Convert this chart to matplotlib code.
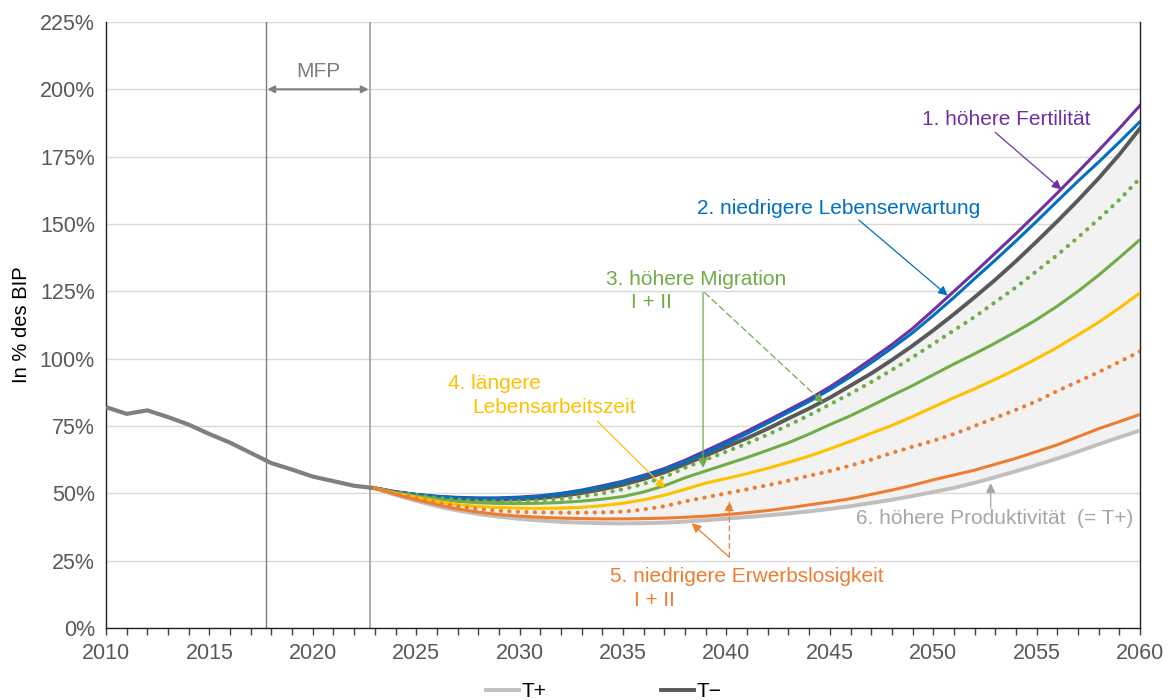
import numpy as np
import matplotlib
matplotlib.use('Agg')
import matplotlib.pyplot as plt
from matplotlib.ticker import MultipleLocator, FuncFormatter

plt.rcParams['font.family'] = ['Liberation Sans', 'DejaVu Sans']

hist_years = list(range(2010, 2024))
hist_vals = [82.0, 79.5, 80.8, 78.3, 75.5, 72.0, 68.8, 65.0, 61.2, 58.8, 56.2, 54.5, 52.8, 51.9]

years = list(range(2023, 2061))
t_plus = [51.9, 49.4, 47.2, 45.2, 43.6, 42.3, 41.3, 40.5, 39.9, 39.4, 39.1, 38.9, 38.8, 38.9, 39.1, 39.5,
          40.0, 40.6, 41.2, 41.8, 42.5, 43.3, 44.2, 45.2, 46.4, 47.6, 49.0, 50.5, 52.0, 53.9, 56.0, 58.2,
          60.5, 62.9, 65.5, 68.2, 70.8, 73.3]
t_minus = [51.9, 50.4, 49.4, 48.6, 48.0, 47.7, 47.6, 47.8, 48.2, 49.0, 50.1, 51.5, 53.2, 55.3, 57.8, 60.8,
           64.0, 67.3, 70.5, 74.0, 77.8, 81.5, 85.5, 90.0, 94.5, 99.5, 104.8, 110.5, 116.5, 122.8, 129.3,
           136.2, 143.5, 151.0, 158.8, 167.0, 175.8, 185.5]
fertility = [51.9, 50.6, 49.6, 48.9, 48.5, 48.3, 48.3, 48.6, 49.1, 50.0, 51.2, 52.8, 54.5, 56.7, 59.2, 62.3,
             65.8, 69.4, 73.1, 77.0, 81.0, 85.0, 89.5, 94.5, 99.8, 105.2, 111.2, 118.0, 125.0, 132.0, 139.2,
             146.4, 153.9, 161.5, 169.3, 177.3, 185.5, 194.0]
life_exp = [51.9, 50.5, 49.5, 48.8, 48.3, 48.1, 48.1, 48.4, 48.9, 49.8, 51.0, 52.5, 54.2, 56.3, 58.8, 61.7,
            65.0, 68.5, 72.2, 76.1, 80.1, 84.1, 88.5, 93.3, 98.5, 103.9, 109.6, 116.0, 122.7, 129.7, 136.6,
            143.7, 151.0, 158.5, 165.9, 173.0, 180.4, 188.0]
migration_1 = [51.9, 50.2, 49.0, 47.9, 47.0, 46.5, 46.2, 46.2, 46.3, 46.6, 47.1, 47.8, 48.8, 50.5, 52.8, 55.8,
               58.3, 60.8, 63.3, 66.0, 68.8, 72.0, 75.5, 78.8, 82.5, 86.3, 90.0, 94.0, 98.0, 101.8, 105.8,
               110.0, 114.5, 119.5, 125.0, 131.0, 137.5, 144.2]
migration_2 = [51.9, 50.4, 49.3, 48.3, 47.6, 47.2, 47.0, 47.0, 47.3, 47.9, 48.8, 50.0, 51.5, 53.5, 56.0, 59.5,
               62.5, 65.5, 68.5, 71.8, 75.3, 79.0, 83.0, 87.0, 91.3, 95.8, 100.5, 105.5, 110.5, 115.5, 121.0,
               126.5, 132.5, 138.5, 145.0, 151.8, 159.0, 167.0]
work_life = [51.9, 50.0, 48.5, 47.0, 45.8, 45.1, 44.7, 44.5, 44.4, 44.5, 44.8, 45.4, 46.3, 47.6, 49.3, 51.5,
             53.8, 55.5, 57.3, 59.3, 61.5, 63.8, 66.5, 69.3, 72.3, 75.2, 78.5, 82.0, 85.5, 88.8, 92.3,
             96.0, 100.0, 104.2, 108.8, 113.5, 118.8, 124.4]
unemp_1 = [51.9, 49.6, 47.6, 45.8, 44.2, 43.0, 42.1, 41.5, 41.1, 40.8, 40.6, 40.5, 40.5, 40.6, 40.8, 41.1,
           41.5, 42.1, 42.8, 43.6, 44.6, 45.7, 46.8, 48.0, 49.6, 51.2, 53.0, 55.0, 56.8, 58.6, 60.8,
           63.0, 65.5, 68.0, 71.0, 74.0, 76.6, 79.3]
unemp_2 = [51.9, 49.9, 48.2, 46.5, 45.2, 44.2, 43.5, 43.1, 42.9, 42.8, 42.8, 42.9, 43.2, 44.0, 45.2, 47.0,
           48.5, 50.0, 51.5, 53.0, 54.7, 56.5, 58.3, 60.3, 62.5, 65.0, 67.3, 69.5, 72.0, 75.0, 78.0,
           81.0, 84.2, 88.0, 91.5, 95.0, 98.8, 102.7]

purple = '#7030A0'
blue = '#0070C0'
green = '#70AD47'
yellow = '#FFC000'
orange = '#ED7D31'
lgrey = '#BFBFBF'
dgrey = '#595959'

fig = plt.figure(figsize=(11.7, 7), dpi=100)
ax = fig.add_axes([0.0906, 0.1029, 0.8838, 0.8657])

ax.fill_between(years, t_plus, t_minus, color='#F2F2F2', lw=0, zorder=1)
ax.axvline(2017.75, color='#7F7F7F', lw=1, zorder=2)
ax.axvline(2022.75, color='#A6A6A6', lw=1.3, zorder=2)

ax.plot(hist_years, hist_vals, color='#7F7F7F', lw=3.0, zorder=3, solid_capstyle='butt')
dots = (0, (0.05, 2.0))
l_plus, = ax.plot(years, t_plus, color=lgrey, lw=2.8, zorder=3, label='T+')
l_minus, = ax.plot(years, t_minus, color=dgrey, lw=2.8, zorder=4, label='T\u2212')
ax.plot(years, fertility, color=purple, lw=2.2, zorder=4)
ax.plot(years, life_exp, color=blue, lw=2.2, zorder=5)
ax.plot(years, migration_2, color=green, lw=3.0, ls=dots, dash_capstyle='round', zorder=5)
ax.plot(years, migration_1, color=green, lw=2.2, zorder=5)
ax.plot(years, work_life, color=yellow, lw=2.2, zorder=5)
ax.plot(years, unemp_2, color=orange, lw=3.0, ls=dots, dash_capstyle='round', zorder=5)
ax.plot(years, unemp_1, color=orange, lw=2.2, zorder=6)

ax.set_xlim(2010, 2060)
ax.set_ylim(0, 225)
ax.xaxis.set_major_locator(MultipleLocator(5))
ax.xaxis.set_minor_locator(MultipleLocator(1))
ax.yaxis.set_major_locator(MultipleLocator(25))
ax.yaxis.set_major_formatter(FuncFormatter(lambda v, p: f'{v:.0f}%'))
ax.grid(axis='y', color='#D9D9D9', lw=1, zorder=0)
ax.set_axisbelow(True)
ax.tick_params(axis='x', which='both', direction='out', length=5, width=1, color='#404040',
               labelsize=15.5, labelcolor='#595959', pad=6)
ax.tick_params(axis='y', length=0, labelsize=15.5, labelcolor='#595959', pad=8)
ax.spines['top'].set_visible(False)
for s in ['left', 'bottom', 'right']:
    ax.spines[s].set_color('#202020')
    ax.spines[s].set_linewidth(1)
ax.set_ylabel('In % des BIP', fontsize=14.5, color='black', labelpad=6)


def arrow(xy, xytext, color, ls='-'):
    ax.annotate('', xy=xy, xytext=xytext, zorder=7,
                arrowprops=dict(arrowstyle='-|>', color=color, lw=0.9, ls=ls,
                                mutation_scale=14, shrinkA=0, shrinkB=0))


fs = 15
ax.text(2020.25, 206.5, 'MFP', color='#7F7F7F', fontsize=fs, ha='center', va='center')
ax.annotate('', xy=(2017.8, 200), xytext=(2022.7, 200), zorder=7,
            arrowprops=dict(arrowstyle='<|-|>', color='#7F7F7F', lw=1.5,
                            mutation_scale=10, shrinkA=0, shrinkB=0))

ax.text(2049.45, 188.8, '1. höhere Fertilität', color=purple, fontsize=fs, ha='left', va='center')
arrow((2056.2, 162.8), (2053.0, 184.0), purple)

ax.text(2038.6, 155.8, '2. niedrigere Lebenserwartung', color=blue, fontsize=fs, ha='left', va='center')
arrow((2050.7, 123.4), (2046.4, 151.5), blue)

ax.text(2034.2, 129.4, '3. höhere Migration', color=green, fontsize=fs, ha='left', va='center')
ax.text(2036.35, 121, 'I + II', color=green, fontsize=fs, ha='center', va='center')
arrow((2038.87, 59.5), (2038.87, 124.5), green)
arrow((2044.7, 83.5), (2038.95, 124.5), green, ls=(0, (5, 3)))

ax.text(2026.55, 90.6, '4. längere', color=yellow, fontsize=fs, ha='left', va='center')
ax.text(2027.7, 81.7, 'Lebensarbeitszeit', color=yellow, fontsize=fs, ha='left', va='center')
arrow((2037.03, 51.9), (2033.77, 76.7), yellow)

ax.text(2034.37, 19.1, '5. niedrigere Erwerbslosigkeit', color=orange, fontsize=fs, ha='left', va='center')
ax.text(2036.5, 10.2, 'I + II', color=orange, fontsize=fs, ha='center', va='center')
arrow((2038.32, 38.9), (2040.14, 26.3), orange)
arrow((2040.14, 47.0), (2040.14, 26.3), orange, ls=(0, (4, 3)))

ax.text(2059.66, 40.8, '6. höhere Produktivität  (= T+)', color='#A6A6A6', fontsize=fs,
        ha='right', va='center')
arrow((2052.78, 53.8), (2052.78, 44.5), '#A6A6A6')

fig.legend(handles=[l_plus, l_minus], loc='center', bbox_to_anchor=(0.516, 0.012), ncol=2,
           frameon=False, fontsize=15, handlelength=1.6, handletextpad=0.1, columnspacing=5.5,
           borderaxespad=0)

fig.savefig('out.png', dpi=100)
